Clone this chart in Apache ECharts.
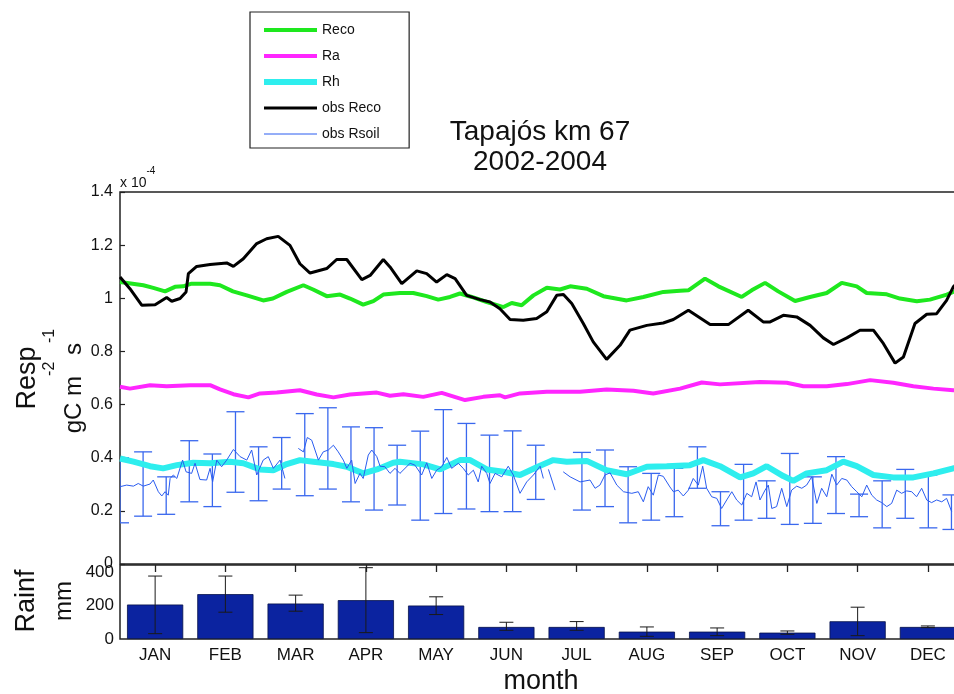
<!DOCTYPE html>
<html>
<head>
<meta charset="utf-8">
<title>Tapajós km 67 respiration</title>
<script src="https://cdn.jsdelivr.net/npm/echarts@6/dist/echarts.min.js"></script>
<style>
  html, body { margin: 0; padding: 0; background: #fff; }
  #chart { width: 954px; height: 694px; }
</style>
</head>
<body>
<div id="chart"></div>
<script>
// Mean annual cycle at Tapajós km 67 (2002-2004). Respiration in units of 1e-4 gC m-2 s-1,
// x position = day of year.

const monthLabels = ['JAN', 'FEB', 'MAR', 'APR', 'MAY', 'JUN', 'JUL', 'AUG', 'SEP', 'OCT', 'NOV', 'DEC'];

// modelled ecosystem respiration [day, value]
const recoModel = [
  [0, 1.061], [10.1, 1.049], [14.4, 1.039], [19.5, 1.026], [23.8, 1.043], [27.3, 1.045], [31, 1.055],
  [39, 1.055], [43.3, 1.049], [48.9, 1.026], [54.9, 1.011], [62, 0.992], [66.2, 0.999], [72.2, 1.024],
  [79.4, 1.049], [83.6, 1.033], [89.5, 1.008], [95.3, 1.014], [99.6, 0.999], [105.3, 0.976], [109.7, 0.989],
  [114, 1.014], [121.2, 1.020], [127, 1.020], [132.8, 1.008], [137.8, 0.995], [142.9, 1.005], [147.2, 1.018],
  [152.3, 1.005], [158.8, 0.986], [166, 0.967], [169.6, 0.982], [173.9, 0.974], [179, 1.011], [184.8, 1.040],
  [190.5, 1.033], [194.9, 1.045], [202.1, 1.036], [209.3, 1.008], [219.4, 0.992], [226.6, 1.005], [235.3, 1.024],
  [242.5, 1.028], [246.1, 1.030], [253.3, 1.074], [259.1, 1.045], [269.2, 1.005], [273.5, 1.030], [279.3, 1.058],
  [285, 1.026], [292.3, 0.990], [298.8, 1.005], [306, 1.020], [312.5, 1.058], [319, 1.045], [323.3, 1.020],
  [332, 1.015], [337.7, 0.999], [345, 0.989], [350.7, 0.995], [358, 1.014], [361, 1.025], [365, 1.030]
];

// modelled autotrophic respiration
const raModel = [
  [0, 0.667], [4.3, 0.660], [13, 0.673], [20.2, 0.669], [30.3, 0.673], [39, 0.673], [43.3, 0.657],
  [49.1, 0.639], [55.6, 0.627], [60.6, 0.642], [67.9, 0.645], [77.9, 0.654], [85.2, 0.638], [92.4, 0.627],
  [99.6, 0.638], [111.2, 0.645], [116.9, 0.633], [122.7, 0.639], [131.3, 0.629], [139.3, 0.644], [149.4, 0.617],
  [157.3, 0.629], [164.5, 0.635], [166.7, 0.627], [173.2, 0.642], [184.8, 0.648], [199.2, 0.648], [210.7, 0.657],
  [222.3, 0.652], [230.9, 0.642], [242.5, 0.660], [251.9, 0.683], [259.8, 0.676], [277.1, 0.685], [288.7, 0.682],
  [295.9, 0.669], [306, 0.669], [314.7, 0.677], [324.8, 0.692], [334.8, 0.682], [343.5, 0.669], [352.2, 0.660],
  [360.8, 0.654], [365, 0.653]
];

// modelled heterotrophic respiration
const rhModel = [
  [0, 0.397], [5.8, 0.385], [13, 0.368], [18.7, 0.360], [24.6, 0.372], [31.7, 0.381], [39, 0.379],
  [47.6, 0.385], [53.4, 0.379], [60.6, 0.356], [66.4, 0.353], [72.2, 0.376], [77.9, 0.391], [83.7, 0.385],
  [92.4, 0.376], [98.2, 0.366], [105.3, 0.341], [111.2, 0.356], [118.3, 0.381], [121.2, 0.385], [131.3, 0.375],
  [138.6, 0.356], [147.2, 0.391], [151.6, 0.391], [158.8, 0.356], [166, 0.347], [173.2, 0.335], [180.4, 0.364],
  [187.6, 0.391], [193.4, 0.385], [202.1, 0.388], [210.7, 0.353], [219.4, 0.338], [228.1, 0.366], [236.7, 0.368],
  [246.8, 0.372], [252.6, 0.391], [259.8, 0.368], [268.5, 0.326], [274.2, 0.341], [280, 0.368], [287.2, 0.331],
  [291.5, 0.313], [297.3, 0.341], [306, 0.353], [313.2, 0.385], [319, 0.368], [326.2, 0.335], [334.8, 0.326],
  [343.5, 0.326], [352.2, 0.341], [360.8, 0.360], [365, 0.365]
];

// eddy-covariance ecosystem respiration
const recoObs = [
  [0, 1.080], [4.3, 1.036], [9.4, 0.974], [15.2, 0.976], [20.2, 1.003], [22.4, 0.989], [26, 0.999],
  [28.6, 1.024], [29.6, 1.093], [33.2, 1.120], [39, 1.127], [46.2, 1.133], [49.1, 1.120], [53.4, 1.149],
  [59.2, 1.206], [63.5, 1.224], [68.5, 1.233], [73.6, 1.199], [77.9, 1.130], [82.3, 1.095], [89.5, 1.112],
  [93.8, 1.146], [98.2, 1.146], [104.7, 1.070], [108.3, 1.086], [114, 1.146], [116.9, 1.118], [122, 1.055],
  [128.5, 1.103], [132.8, 1.093], [137.1, 1.061], [141.5, 1.089], [145.1, 1.074], [150.1, 1.011], [155.9, 0.995],
  [160.2, 0.986], [164.5, 0.961], [168.9, 0.920], [174.6, 0.917], [180.4, 0.924], [184.8, 0.949], [189.1, 1.011],
  [192, 1.014], [195.6, 0.980], [200.6, 0.905], [204.9, 0.836], [210.7, 0.770], [216.5, 0.823], [220.8, 0.880],
  [228.1, 0.898], [235.2, 0.907], [239.6, 0.920], [246.1, 0.955], [255.5, 0.901], [263.4, 0.901], [272, 0.955],
  [278.5, 0.911], [281.5, 0.911], [287.2, 0.936], [293, 0.930], [298.8, 0.898], [304.5, 0.851], [308.9, 0.826],
  [314.7, 0.851], [320.4, 0.880], [326.2, 0.880], [330.5, 0.830], [335.6, 0.756], [339.2, 0.779], [344.2, 0.905],
  [349.3, 0.940], [353.6, 0.942], [357.9, 0.992], [360.8, 1.043], [365, 1.080]
];

// chamber soil respiration (null = no measurements)
const rsoilObs = [
  [0, 0.291], [2.9, 0.297], [5.8, 0.293], [7.9, 0.303], [10.1, 0.293], [13, 0.301], [14.4, 0.316],
  [16.6, 0.272], [18.1, 0.256], [19.5, 0.272], [20.9, 0.259], [21.7, 0.322], [23.1, 0.335], [24.6, 0.322],
  [27.1, 0.391], [28.6, 0.347], [31, 0.341], [32.5, 0.379], [34.6, 0.318], [37.5, 0.316], [39, 0.360],
  [40.1, 0.309], [41.9, 0.391], [44, 0.366], [46.2, 0.391], [49.1, 0.431], [52, 0.404], [54.9, 0.391],
  [57, 0.429], [59.2, 0.335], [62, 0.391], [64.2, 0.404], [66.4, 0.360], [69.3, 0.391], [71.4, 0.322],
  [74, null],
  [77.2, 0.435], [79.4, 0.422], [81.1, 0.476], [83, 0.466], [85.9, 0.391], [88, 0.422], [90.2, 0.429],
  [92.4, 0.447], [94.5, 0.422], [96.7, 0.391], [98.2, 0.360], [100.3, 0.391], [101.8, 0.303], [103.9, 0.341],
  [105.3, 0.322], [107.5, 0.410], [109, 0.429], [111.2, 0.404], [112.6, 0.368], [114.7, 0.366], [116.9, 0.341],
  [119.1, 0.360], [121.2, 0.341], [123.4, 0.360], [125.6, 0.379], [127.7, 0.372], [130.6, 0.335], [132.8, 0.381],
  [135, 0.322], [137.1, 0.353], [139.3, 0.366], [141.5, 0.401], [143.6, 0.360], [146.5, 0.379], [148.6, 0.360],
  [150.8, 0.335], [153, 0.353], [155.1, 0.309], [156.6, 0.368], [158.8, 0.341], [160.2, 0.303], [162.4, 0.341],
  [165.3, 0.328], [168.1, 0.368], [170.3, 0.335], [173.2, 0.266], [176.1, 0.309], [179, 0.335], [181.9, 0.368],
  [183.3, 0.322],
  [184.4, null],
  [185.5, 0.356], [188.4, 0.278],
  [190, null],
  [191.9, 0.347], [194.9, 0.328], [199.2, 0.309], [203.5, 0.316], [205.7, 0.285], [207.8, 0.297], [210, 0.335],
  [212.2, 0.343], [215.1, 0.297], [218, 0.272], [221.6, 0.266], [224.4, 0.272], [226.6, 0.234], [228.7, 0.291],
  [230.9, 0.259], [233.1, 0.335], [235.2, 0.330], [238.1, 0.290], [239.6, 0.272], [241.7, 0.278], [243.9, 0.256],
  [246.1, 0.278], [248.2, 0.322], [250.4, 0.297], [252.3, 0.368], [254, 0.285], [256.2, 0.253], [258.4, 0.247],
  [260.5, 0.209], [262.7, 0.241], [264.9, 0.272], [267, 0.241], [269.2, 0.222], [271.4, 0.266], [273.5, 0.253],
  [275.4, 0.309], [277.1, 0.241], [279.3, 0.278], [280.7, 0.297], [282.2, 0.209], [284.3, 0.216], [286.5, 0.285],
  [288.7, 0.216], [290.8, 0.278], [293, 0.293], [295.2, 0.285], [297.3, 0.297], [299.5, 0.328], [301.7, 0.228],
  [303.8, 0.285], [306, 0.253], [308.2, 0.338], [310.3, 0.297], [312.5, 0.322], [314.7, 0.316], [316.8, 0.291],
  [319, 0.272], [321.2, 0.253], [323.3, 0.297], [325.5, 0.259], [327.6, 0.241], [329.8, 0.231], [332, 0.216],
  [334.1, 0.228], [336.3, 0.278], [338.4, 0.266], [340.6, 0.275], [342.8, 0.272], [344.9, 0.253], [347.1, 0.285],
  [349.3, 0.241], [351.4, 0.231], [353.6, 0.241], [355.8, 0.234], [357.9, 0.247], [360.1, 0.197]
];

// soil respiration spread [day, low, high]
const rsoilRange = [
  [0, 0.155, 0.400], [10, 0.180, 0.422], [20, 0.187, 0.328], [30, 0.234, 0.464], [40, 0.216, 0.414],
  [50, 0.270, 0.573], [60, 0.238, 0.441], [70, 0.282, 0.476], [80, 0.257, 0.566], [90, 0.282, 0.588],
  [100, 0.234, 0.516], [110, 0.203, 0.513], [120, 0.222, 0.447], [130, 0.165, 0.500], [140, 0.190, 0.581],
  [150, 0.207, 0.529], [160, 0.197, 0.485], [170, 0.197, 0.501], [180, 0.243, 0.447], [200, 0.203, 0.420],
  [210, 0.216, 0.429], [220, 0.155, 0.366], [230, 0.165, 0.341], [240, 0.178, 0.360], [250, 0.285, 0.441],
  [260, 0.144, 0.272], [270, 0.165, 0.375], [280, 0.172, 0.313], [290, 0.149, 0.416], [300, 0.153, 0.328],
  [310, 0.190, 0.404], [320, 0.178, 0.263], [330, 0.136, 0.313], [340, 0.172, 0.356], [350, 0.136, 0.335],
  [360, 0.130, 0.260]
];

// monthly rainfall (mm) and its spread
const rainMean = [206, 268, 212, 232, 200, 72, 72, 44, 44, 38, 106, 72];
const rainLow  = [32, 160, 166, 38, 146, 52, 52, 16, 20, 28, 20, 68];
const rainHigh = [376, 376, 262, 426, 252, 100, 104, 72, 66, 48, 190, 78];

const FONT = '"Liberation Sans", Arial, Helvetica, sans-serif';
const INK = '#111';

const chart = echarts.init(document.getElementById('chart'), null, { renderer: 'canvas' });

function errorBarRenderer(capHalf, color, width) {
  return function (params, api) {
    const x = api.value(0);
    const lo = api.coord([x, api.value(1)]);
    const hi = api.coord([x, api.value(2)]);
    const st = { stroke: color, lineWidth: width };
    return {
      type: 'group',
      children: [
        { type: 'line', shape: { x1: lo[0], y1: lo[1], x2: hi[0], y2: hi[1] }, style: st },
        { type: 'line', shape: { x1: lo[0] - capHalf, y1: lo[1], x2: lo[0] + capHalf, y2: lo[1] }, style: st },
        { type: 'line', shape: { x1: hi[0] - capHalf, y1: hi[1], x2: hi[0] + capHalf, y2: hi[1] }, style: st }
      ]
    };
  };
}

const withGaps = arr => arr.map(p => [p[0], p[1] === null ? '-' : p[1]]);

const lineSeries = (name, data, color, width) => ({
  name, type: 'line', xAxisIndex: 0, yAxisIndex: 0, data,
  symbol: 'none', smooth: false, connectNulls: false,
  lineStyle: { color, width }, itemStyle: { color },
  emphasis: { disabled: true }, animation: false
});

const option = {
  backgroundColor: '#fff',
  animation: false,
  textStyle: { fontFamily: FONT },
  grid: [
    { left: 120, top: 192, width: 843, height: 372, outerBoundsMode: 'none', containLabel: false,
      show: true, borderColor: '#222', borderWidth: 1.5, backgroundColor: 'transparent' },
    { left: 120, top: 565, width: 843, height: 74, outerBoundsMode: 'none', containLabel: false,
      show: true, borderColor: '#222', borderWidth: 1.5, backgroundColor: 'transparent' }
  ],
  xAxis: [
    { gridIndex: 0, type: 'value', min: 0, max: 365, axisLine: { show: false }, axisTick: { show: false },
      axisLabel: { show: false }, splitLine: { show: false } },
    { gridIndex: 1, type: 'category', data: monthLabels, position: 'bottom',
      axisLine: { show: false }, axisTick: { show: false }, splitLine: { show: false },
      axisLabel: { fontSize: 17, color: INK, margin: 8, fontFamily: FONT } },
    { gridIndex: 1, type: 'category', data: monthLabels, position: 'top',
      axisLine: { show: false }, axisLabel: { show: false }, splitLine: { show: false },
      axisTick: { show: true, inside: true, alignWithLabel: true, length: 7, lineStyle: { color: '#222', width: 1.3 } } }
  ],
  yAxis: [
    { gridIndex: 0, type: 'value', min: 0, max: 1.4, interval: 0.2,
      axisLine: { show: false }, splitLine: { show: false },
      axisTick: { show: true, inside: true, length: 5, lineStyle: { color: '#222', width: 1.2 } },
      axisLabel: { fontSize: 16, color: INK, margin: 7, fontFamily: FONT,
        formatter: v => (Math.abs(v - Math.round(v)) < 1e-9 ? String(Math.round(v)) : v.toFixed(1)) } },
    { gridIndex: 1, type: 'value', min: 0, max: 442, interval: 200,
      axisLine: { show: false }, splitLine: { show: false }, axisTick: { show: false },
      axisLabel: { fontSize: 17, color: INK, margin: 6, fontFamily: FONT } }
  ],
  legend: {
    orient: 'vertical', left: 250, top: 12,
    itemWidth: 53, itemHeight: 14, itemGap: 12,
    padding: [11, 28, 7, 11],
    borderColor: '#222', borderWidth: 1.2, backgroundColor: '#fff',
    selectedMode: false,
    textStyle: { fontSize: 14, color: INK, fontFamily: FONT },
    lineStyle: { width: 'inherit' },
    itemStyle: { opacity: 0 },
    data: ['Reco', 'Ra', 'Rh', 'obs Reco', 'obs Rsoil']
  },
  series: [
    lineSeries('Reco', recoModel, '#1ee81e', 4),
    lineSeries('Ra', raModel, '#ff26ff', 4),
    lineSeries('Rh', rhModel, '#2eeeee', 6),
    lineSeries('obs Reco', recoObs, '#000000', 3),
    lineSeries('obs Rsoil', withGaps(rsoilObs), '#2a5cf0', 1),
    {
      name: 'obs Rsoil range', type: 'custom', xAxisIndex: 0, yAxisIndex: 0, data: rsoilRange,
      encode: { x: 0, y: [1, 2] }, clip: true, silent: true,
      renderItem: errorBarRenderer(9, '#3a68ee', 1.3)
    },
    {
      name: 'Rainfall', type: 'bar', xAxisIndex: 1, yAxisIndex: 1, data: rainMean,
      barWidth: '80%', itemStyle: { color: '#0b23a0', borderColor: '#06114a', borderWidth: 0.8 },
      emphasis: { disabled: true }, silent: true
    },
    {
      name: 'Rainfall range', type: 'custom', xAxisIndex: 1, yAxisIndex: 1,
      data: rainMean.map((v, i) => [i, rainLow[i], rainHigh[i]]),
      encode: { x: 0, y: [1, 2] }, silent: true, z: 5,
      renderItem: errorBarRenderer(7, '#1a1a1a', 1)
    }
  ],
  graphic: [
    { type: 'text', x: 540, y: 132, style: { text: 'Tapajós km 67', font: '28px ' + FONT, fill: INK, align: 'center', verticalAlign: 'middle' } },
    { type: 'text', x: 540, y: 162, style: { text: '2002-2004', font: '28px ' + FONT, fill: INK, align: 'center', verticalAlign: 'middle' } },
    { type: 'text', x: 120, y: 178, style: {
        text: '{b|x 10}{s|-4}', align: 'left', verticalAlign: 'middle', fill: INK,
        rich: {
          b: { fontSize: 14, fontFamily: FONT, lineHeight: 24, verticalAlign: 'bottom', fill: INK },
          s: { fontSize: 10, fontFamily: FONT, lineHeight: 6, verticalAlign: 'top', fill: INK }
        } } },
    { type: 'text', x: 28, y: 378, rotation: Math.PI / 2, style: { text: 'Resp', font: '27px ' + FONT, fill: INK, align: 'center', verticalAlign: 'middle' } },
    { type: 'text', x: 64, y: 381, rotation: Math.PI / 2, style: {
        text: '{b|gC m}{s|-2}{b| s}{s|-1}', align: 'center', verticalAlign: 'middle', fill: INK,
        rich: {
          b: { fontSize: 24, fontFamily: FONT, lineHeight: 44, verticalAlign: 'bottom', fill: INK },
          s: { fontSize: 16, fontFamily: FONT, lineHeight: 8, verticalAlign: 'top', fill: INK }
        } } },
    { type: 'text', x: 27, y: 601, rotation: Math.PI / 2, style: { text: 'Rainf', font: '27px ' + FONT, fill: INK, align: 'center', verticalAlign: 'middle' } },
    { type: 'text', x: 64, y: 601, rotation: Math.PI / 2, style: { text: 'mm', font: '24px ' + FONT, fill: INK, align: 'center', verticalAlign: 'middle' } },
    { type: 'text', x: 541, y: 682, style: { text: 'month', font: '27px ' + FONT, fill: INK, align: 'center', verticalAlign: 'middle' } }
  ]
};

chart.setOption(option);
</script>
</body>
</html>
